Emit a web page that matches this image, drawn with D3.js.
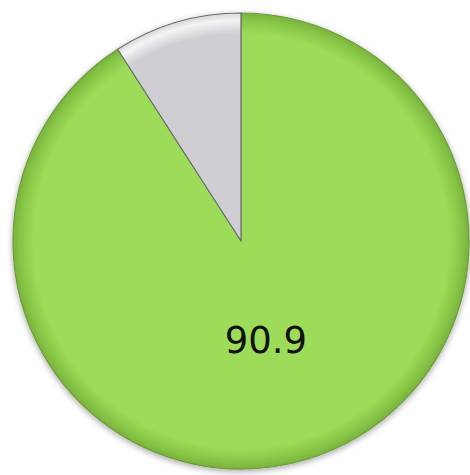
<!DOCTYPE html>
<html>
<head>
<meta charset="utf-8">
<script src="https://cdn.jsdelivr.net/npm/d3@7"></script>
<style>
  body { margin: 0; background: #fff; }
  svg { display: block; }
</style>
</head>
<body>
<svg id="chart" width="470" height="475"></svg>
<script>
// slice data
var labels = ["yes", "no"];
var values = [90.9, 9.1];
var shownLabels = ["90.9", ""];

var colors = ["#9ddc58", "#cfcfd3"];
var rimColors = ["#86c446", "#f4f4f6"];
var edgeColors = ["#6f9c3c", "#6b6b70"];

var svg = d3.select("#chart"),
    cx = 241, cy = 241, radius = 228;

var defs = svg.append("defs");

var shadow = defs.append("filter").attr("id", "shadow")
    .attr("x", "-10%").attr("y", "-10%").attr("width", "120%").attr("height", "120%");
shadow.append("feDropShadow")
    .attr("dx", 0).attr("dy", 2)
    .attr("stdDeviation", 3)
    .attr("flood-color", "#000")
    .attr("flood-opacity", 0.35);

colors.forEach(function(c, i) {
  var g = defs.append("radialGradient")
      .attr("id", "grad" + i)
      .attr("gradientUnits", "userSpaceOnUse")
      .attr("cx", 0).attr("cy", 0).attr("r", radius);
  g.append("stop").attr("offset", "0%").attr("stop-color", c);
  g.append("stop").attr("offset", "91%").attr("stop-color", c);
  g.append("stop").attr("offset", "97%").attr("stop-color", rimColors[i]);
  g.append("stop").attr("offset", "100%").attr("stop-color", i === 0 ? "#79b23c" : "#d8d8dc");
});

var pie = d3.pie().sort(null).startAngle(0).endAngle(2 * Math.PI);
var arcs = pie(values);

var arc = d3.arc().innerRadius(0).outerRadius(radius);
var labelArc = d3.arc().innerRadius(0).outerRadius(radius * 0.9);

var g = svg.append("g")
    .attr("transform", "translate(" + cx + "," + cy + ")");

g.append("g")
    .attr("filter", "url(#shadow)")
  .selectAll("path")
  .data(arcs)
  .enter().append("path")
    .attr("d", arc)
    .attr("fill", function(d, i) { return "url(#grad" + i + ")"; })
    .attr("stroke", function(d, i) { return edgeColors[i]; })
    .attr("stroke-width", 1.2)
    .attr("stroke-linejoin", "round");

g.selectAll("text")
  .data(arcs)
  .enter().append("text")
    .attr("transform", function(d) { return "translate(" + labelArc.centroid(d) + ")"; })
    .attr("text-anchor", "middle")
    .attr("dx", -4)
    .attr("dy", "0.38em")
    .style("font-family", "DejaVu Sans, Verdana, sans-serif")
    .style("font-size", "37px")
    .attr("fill", "#111")
    .text(function(d, i) { return shownLabels[i]; });
</script>
</body>
</html>
